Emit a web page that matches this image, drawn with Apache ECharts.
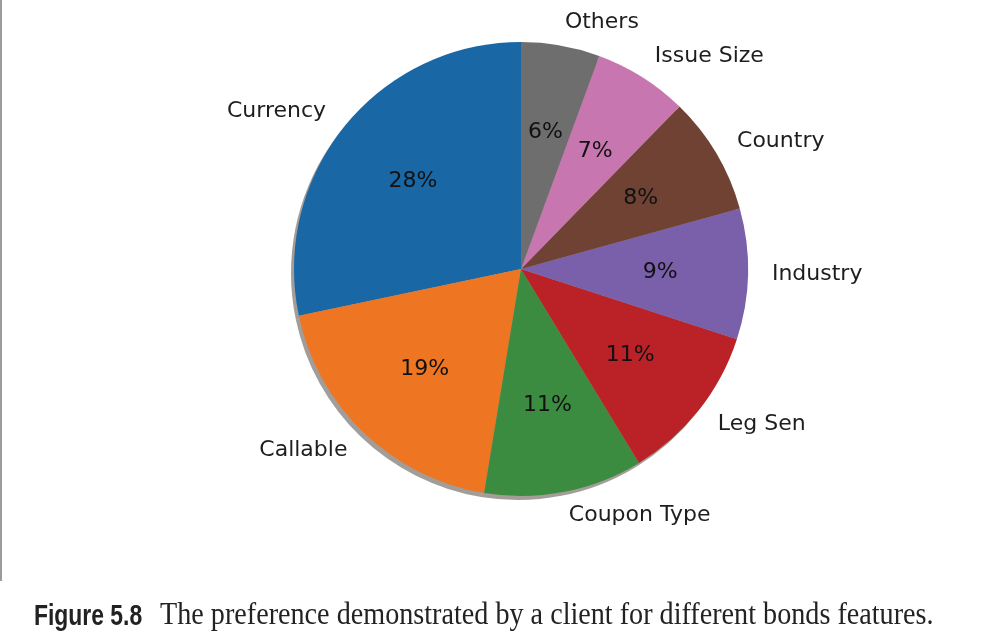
<!DOCTYPE html>
<html lang="en">
<head>
    <meta http-equiv="content-type" content="text/html;charset=utf-8">
    <title>Bond feature preference</title>
    <script src="https://cdn.jsdelivr.net/npm/echarts@6/dist/echarts.min.js"></script>
    <style>
        html, body { margin: 0; padding: 0; background: #fff; }
        #main { width: 995px; height: 633px; }
    </style>
</head>
<body>
    <div id="main"></div>
    <script>
        // slice names and shares (counter-clockwise from 12 o'clock)
        var features = ['Currency', 'Callable', 'Coupon Type', 'Leg Sen', 'Industry', 'Country', 'Issue Size', 'Others'];
        var shares = [28.3, 19.1, 11.3, 11.3, 9.3, 8.4, 6.7, 5.6];
        var sliceColors = ['#1a67a5', '#ee7623', '#3b8c40', '#bb2227', '#7a5fab', '#6f4234', '#c876b0', '#6e6e6e'];
        var captionLead = 'Figure 5.8';
        var captionText = 'The preference demonstrated by a client for different bonds features.';

        var myChart = echarts.init(document.getElementById('main'));

        var R = 227;
        var C = [521, 269];

        var pieData = features.map(function (name, i) {
            return { name: name, value: shares[i] };
        });

        var option = {
            animation: false,
            color: sliceColors,
            series: [
                {
                    // matplotlib-style drop shadow
                    name: 'shadow',
                    type: 'pie',
                    silent: true,
                    z: 1,
                    center: [C[0] - 3, C[1] + 4],
                    radius: [0, R],
                    startAngle: 90,
                    clockwise: false,
                    label: { show: false },
                    labelLine: { show: false },
                    itemStyle: { color: 'rgba(70,60,50,0.5)', borderWidth: 0 },
                    emphasis: { disabled: true },
                    data: pieData
                },
                {
                    name: 'features',
                    type: 'pie',
                    z: 2,
                    center: C,
                    radius: [0, R],
                    startAngle: 90,
                    clockwise: false,
                    avoidLabelOverlap: false,
                    itemStyle: { borderWidth: 0 },
                    label: {
                        show: true,
                        position: 'outside',
                        alignTo: 'none',
                        distanceToLabelLine: 0,
                        formatter: '{b}',
                        color: '#1e1e1e',
                        fontFamily: 'DejaVu Sans',
                        fontSize: 22
                    },
                    labelLine: { show: false, length: 24, length2: 0 },
                    emphasis: { disabled: true },
                    data: pieData
                },
                {
                    // percentage labels at 0.6 R
                    name: 'pct',
                    type: 'pie',
                    silent: true,
                    z: 3,
                    center: C,
                    radius: [0.2 * R, R],
                    startAngle: 90,
                    clockwise: false,
                    avoidLabelOverlap: false,
                    itemStyle: { color: 'rgba(0,0,0,0)', borderWidth: 0 },
                    label: {
                        show: true,
                        position: 'inside',
                        formatter: function (p) { return Math.round(p.percent) + '%'; },
                        color: '#111',
                        fontFamily: 'DejaVu Sans',
                        fontSize: 22
                    },
                    labelLine: { show: false },
                    emphasis: { disabled: true },
                    data: pieData
                }
            ],
            graphic: [
                {
                    type: 'line',
                    shape: { x1: 1, y1: 0, x2: 1, y2: 581 },
                    style: { stroke: '#7a7a7a', lineWidth: 1.5 }
                },
                {
                    type: 'text',
                    x: 34,
                    y: 602,
                    scaleX: 0.79,
                    style: {
                        text: captionLead,
                        font: 'bold 29px "Liberation Sans"',
                        fill: '#222',
                        verticalAlign: 'top'
                    }
                },
                {
                    type: 'text',
                    x: 160,
                    y: 600,
                    scaleX: 0.88,
                    style: {
                        text: captionText,
                        font: '32px "Liberation Serif"',
                        fill: '#222',
                        verticalAlign: 'top'
                    }
                }
            ]
        };

        myChart.setOption(option);
        window.onresize = function () {
            myChart.resize();
        };
    </script>
</body>
</html>
